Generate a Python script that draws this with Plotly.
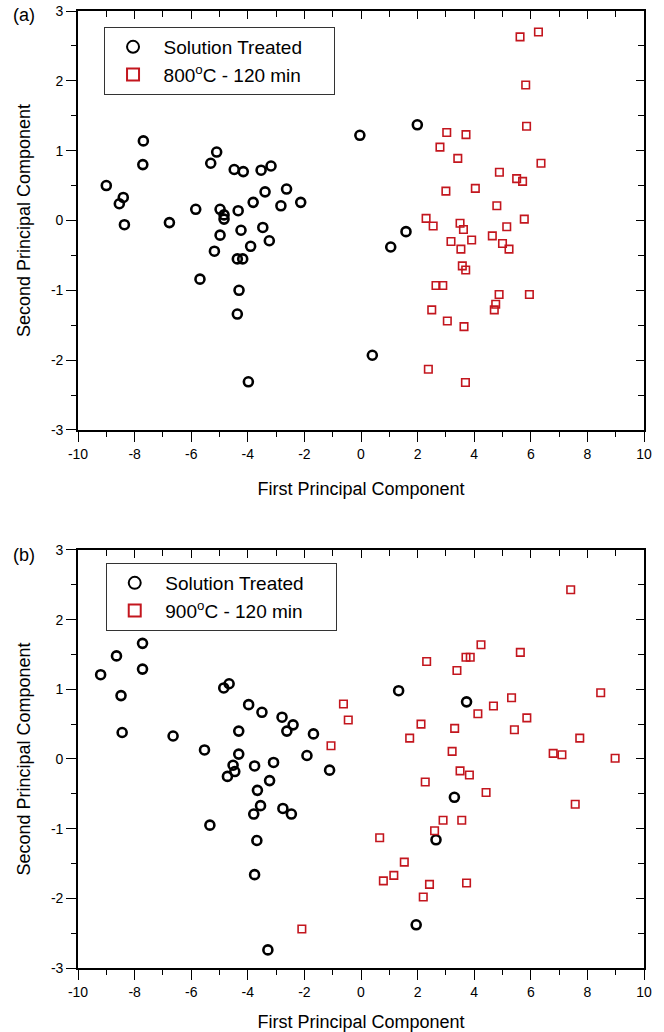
import plotly.graph_objects as go

# ---------------- Data ----------------
# Panel (a): Solution Treated
st_a_x = [-9.00, -8.54, -8.40, -8.36, -7.71, -7.69, -6.77, -5.84, -5.69, -5.31,
          -5.10, -5.18, -4.98, -4.84, -4.84, -4.98, -4.48, -4.34, -4.16, -4.24,
          -4.37, -4.18, -4.31, -4.37, -3.98, -3.90, -3.81, -3.53, -3.18, -3.39,
          -3.47, -3.24, -2.63, -2.83, -2.13, -0.04, 1.99, 1.59, 1.05, 0.40]
st_a_y = [0.50, 0.24, 0.33, -0.06, 0.80, 1.14, -0.03, 0.16, -0.84, 0.82,
          0.98, -0.44, 0.16, 0.08, 0.02, -0.21, 0.73, 0.14, 0.70, -0.14,
          -0.55, -0.55, -1.00, -1.34, -2.31, -0.37, 0.26, 0.72, 0.78, 0.41,
          -0.10, -0.29, 0.45, 0.21, 0.26, 1.22, 1.37, -0.16, -0.38, -1.93]
# Panel (a): 800 C - 120 min
ht_a_x = [5.62, 6.27, 5.82, 5.85, 3.03, 3.71, 2.79, 3.42, 6.36, 4.89,
          5.50, 5.71, 3.00, 4.04, 4.80, 2.30, 2.55, 3.50, 3.62, 5.77,
          5.15, 4.64, 5.00, 5.23, 3.18, 3.91, 3.53, 3.58, 3.70, 2.65,
          2.89, 4.88, 5.95, 4.76, 4.71, 2.50, 3.05, 3.64, 2.38, 3.69]
ht_a_y = [2.63, 2.70, 1.94, 1.35, 1.26, 1.23, 1.05, 0.89, 0.82, 0.69,
          0.60, 0.56, 0.42, 0.46, 0.21, 0.03, -0.08, -0.04, -0.13, 0.02,
          -0.09, -0.22, -0.33, -0.41, -0.30, -0.28, -0.41, -0.65, -0.71, -0.93,
          -0.93, -1.06, -1.06, -1.20, -1.28, -1.28, -1.44, -1.52, -2.13, -2.32]
# Panel (b): Solution Treated
st_b_x = [-9.20, -8.64, -8.48, -8.44, -7.72, -7.72, -6.64, -4.85, -4.66, -3.97,
          -3.50, -2.79, -2.40, -2.62, -1.68, -4.32, -5.53, -4.32, -1.91, -4.52,
          -4.46, -4.72, -3.76, -3.09, -1.11, -3.23, -3.66, -3.55, -3.79, -2.76,
          -2.46, -5.34, -3.68, -3.76, -3.29, 1.33, 3.73, 3.30, 2.65, 1.95]
st_b_y = [1.21, 1.48, 0.91, 0.38, 1.66, 1.29, 0.33, 1.02, 1.08, 0.78,
          0.67, 0.60, 0.49, 0.40, 0.36, 0.40, 0.13, 0.07, 0.05, -0.09,
          -0.18, -0.25, -0.10, -0.05, -0.16, -0.31, -0.45, -0.67, -0.79, -0.71,
          -0.79, -0.95, -1.17, -1.66, -2.74, 0.98, 0.82, -0.55, -1.16, -2.38]
# Panel (b): 900 C - 120 min
ht_b_x = [-1.06, -2.09, 7.41, 4.24, 5.63, 2.32, 3.71, 3.86, 3.39, 8.47,
          -0.62, -0.45, 5.32, 4.68, 4.13, 5.86, 2.12, 5.42, 1.72, 3.31,
          7.73, 3.22, 6.79, 7.10, 8.98, 3.50, 3.83, 2.27, 4.42, 7.57,
          3.56, 2.90, 2.60, 0.66, 1.53, 1.16, 0.79, 2.42, 3.73, 2.20]
ht_b_y = [0.19, -2.44, 2.43, 1.64, 1.53, 1.40, 1.46, 1.46, 1.27, 0.95,
          0.79, 0.56, 0.88, 0.76, 0.65, 0.59, 0.50, 0.42, 0.30, 0.44,
          0.30, 0.11, 0.08, 0.06, 0.01, -0.17, -0.23, -0.33, -0.48, -0.65,
          -0.88, -0.88, -1.03, -1.13, -1.48, -1.67, -1.75, -1.80, -1.78, -1.98]

names_a = ["Solution Treated", "800<sup>o</sup>C - 120 min"]
names_b = ["Solution Treated", "900<sup>o</sup>C - 120 min"]
panel_labels = ["(a)", "(b)"]
x_title = "First Principal Component"
y_title = "Second Principal Component"
x_tickvals = [-10, -8, -6, -4, -2, 0, 2, 4, 6, 8, 10]
x_ticktext = ["-10", "-8", "-6", "-4", "-2", "0", "2", "4", "6", "8", "10"]
y_tickvals = [-3, -2, -1, 0, 1, 2, 3]
y_ticktext = ["-3", "-2", "-1", "0", "1", "2", "3"]

# ---------------- Styles ----------------
FONT = "Liberation Sans, Arial, Helvetica, sans-serif"
RED = "#c3161e"
circle_style = dict(symbol="circle-open", size=9, color="black",
                    line=dict(color="black", width=2.6))
square_style = dict(symbol="square-open", size=7.5, color=RED,
                    line=dict(color=RED, width=1.6))
NB = "\u00a0"

fig = go.Figure()

fig.add_trace(go.Scatter(x=st_a_x, y=st_a_y, mode="markers", marker=circle_style,
                         name=NB * 2 + names_a[0] + NB * 5, xaxis="x", yaxis="y",
                         legend="legend"))
fig.add_trace(go.Scatter(x=ht_a_x, y=ht_a_y, mode="markers", marker=square_style,
                         name=NB * 2 + names_a[1], xaxis="x", yaxis="y",
                         legend="legend"))
fig.add_trace(go.Scatter(x=st_b_x, y=st_b_y, mode="markers", marker=circle_style,
                         name=NB * 2 + names_b[0] + NB * 5, xaxis="x2", yaxis="y2",
                         legend="legend2"))
fig.add_trace(go.Scatter(x=ht_b_x, y=ht_b_y, mode="markers", marker=square_style,
                         name=NB * 2 + names_b[1], xaxis="x2", yaxis="y2",
                         legend="legend2"))
# invisible traces to activate the mirrored (inward tick) axes
for xa, ya in [("x3", "y3"), ("x4", "y4")]:
    fig.add_trace(go.Scatter(x=[None], y=[None], mode="markers", xaxis=xa, yaxis=ya,
                             showlegend=False, hoverinfo="skip"))

dom_a = [0.5622, 1.0]
dom_b = [0.0, 0.4368]

tickfont = dict(family=FONT, size=14, color="black")
titlefont = dict(family=FONT, size=18, color="black")

def xmain(anchor):
    return dict(range=[-10, 10], tickmode="array", tickvals=x_tickvals,
                ticktext=x_ticktext, ticks="outside", ticklen=10,
                tickwidth=1.3, tickcolor="black", showline=True, linecolor="black",
                linewidth=1.6, mirror=True, showgrid=False, zeroline=False,
                tickfont=tickfont, anchor=anchor, automargin=False,
                title=dict(text=x_title, font=titlefont, standoff=22),
                minor=dict(ticks="outside", ticklen=5, dtick=1, tick0=-10,
                           tickwidth=1.2, tickcolor="black", showgrid=False))

def ymain(anchor, dom):
    return dict(range=[-3, 3], tickmode="array", tickvals=y_tickvals,
                ticktext=y_ticktext, ticks="outside", ticklen=10,
                tickwidth=1.3, tickcolor="black", showline=True, linecolor="black",
                linewidth=1.6, mirror=True, showgrid=False, zeroline=False,
                tickfont=tickfont, anchor=anchor, domain=dom, automargin=False,
                title=dict(text=y_title, font=titlefont, standoff=16),
                minor=dict(ticks="outside", ticklen=5, dtick=0.5, tick0=-3,
                           tickwidth=1.2, tickcolor="black", showgrid=False))

def xtop(overlay, anchor):
    return dict(range=[-10, 10], dtick=2, tick0=-10, ticks="inside", ticklen=8,
                tickwidth=1.3, tickcolor="black", showticklabels=False,
                showgrid=False, zeroline=False, showline=False, side="top",
                overlaying=overlay, anchor=anchor, automargin=False,
                minor=dict(ticks="inside", ticklen=6, dtick=1, tick0=-10,
                           tickwidth=1.2, tickcolor="black", showgrid=False))

def yright(overlay, anchor):
    return dict(range=[-3, 3], dtick=1, tick0=-3, ticks="inside", ticklen=8,
                tickwidth=1.3, tickcolor="black", showticklabels=False,
                showgrid=False, zeroline=False, showline=False, side="right",
                overlaying=overlay, anchor=anchor, automargin=False,
                minor=dict(ticks="inside", ticklen=6, dtick=0.5, tick0=-3,
                           tickwidth=1.2, tickcolor="black", showgrid=False))

legend_common = dict(bgcolor="white", bordercolor="#333333", borderwidth=1,
                     font=dict(family=FONT, size=19, color="black"),
                     xanchor="left", yanchor="top", tracegroupgap=0,
                     itemsizing="constant", indentation=8)

fig.update_layout(
    width=664, height=1032,
    margin=dict(l=78, r=20, t=11, b=64, autoexpand=False),
    paper_bgcolor="white", plot_bgcolor="white",
    xaxis=xmain("y"),
    yaxis=ymain("x", dom_a),
    xaxis2=xmain("y2"),
    yaxis2=ymain("x2", dom_b),
    xaxis3=xtop("x", "y"),
    yaxis3=yright("y", "x"),
    xaxis4=xtop("x2", "y2"),
    yaxis4=yright("y2", "x2"),
    legend=dict(x=0.046, y=0.9833, **legend_common),
    legend2=dict(x=0.049, y=0.4232, **legend_common),
    annotations=[
        dict(text=panel_labels[0], x=-0.095, y=0.9958, xref="paper", yref="paper",
             showarrow=False, font=dict(family=FONT, size=18, color="black"),
             xanchor="center", yanchor="middle"),
        dict(text=panel_labels[1], x=-0.095, y=0.4316, xref="paper", yref="paper",
             showarrow=False, font=dict(family=FONT, size=18, color="black"),
             xanchor="center", yanchor="middle"),
    ],
)

fig.write_html("out.html")
